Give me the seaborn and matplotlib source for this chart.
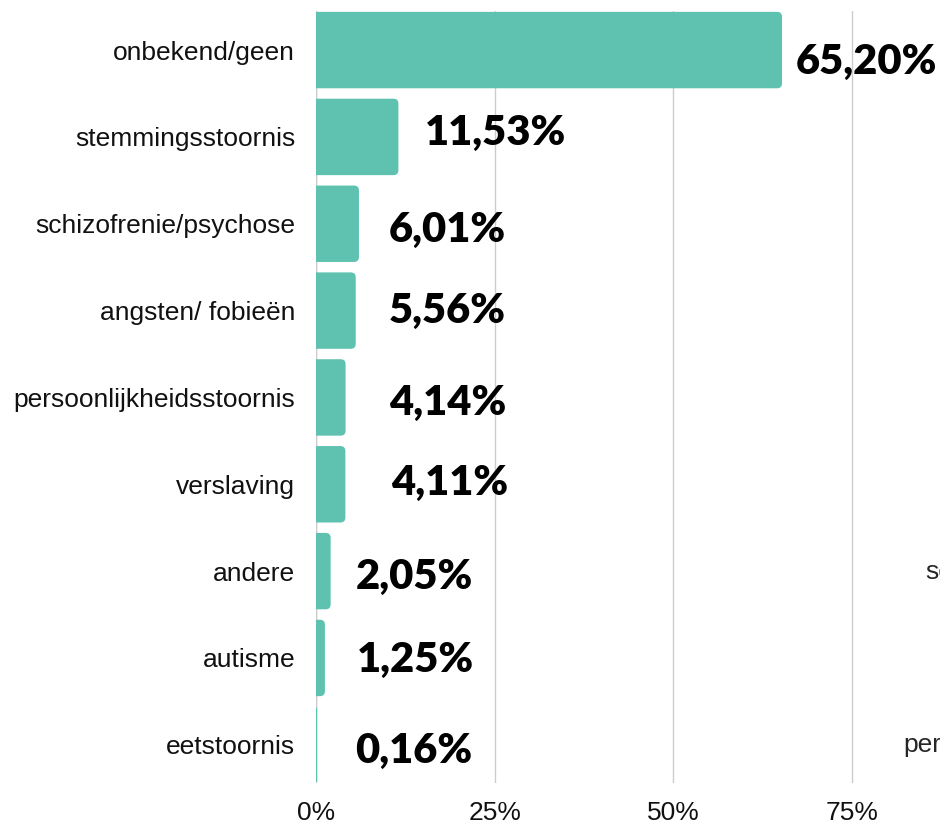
import seaborn as sns
import matplotlib.pyplot as plt
import pandas as pd
from matplotlib.patches import FancyBboxPatch

# data
categories = ["onbekend/geen", "stemmingsstoornis", "schizofrenie/psychose",
              "angsten/ fobieën", "persoonlijkheidsstoornis", "verslaving",
              "andere", "autisme", "eetstoornis"]
values = [65.20, 11.53, 6.01, 5.56, 4.14, 4.11, 2.05, 1.25, 0.16]
xticks = [0, 25, 50, 75]

# label offsets in pixels (dx from bar end, dy from bar centre)
label_dx = [14, 26, 30, 33, 43, 46, 25, 32, 38]
label_dy = [-12, 4, -6, 0, -6, 1, -6, -2, -6]

bar_color = "#5fc1b0"

df = pd.DataFrame({"cat": categories, "val": values})

sns.set_style("white")
fig = plt.figure(figsize=(9.4, 8.25), dpi=100)
ax = fig.add_axes([316 / 940, 1 - 783 / 825, 1 - 316 / 940, 772 / 825])

sns.barplot(data=df, x="val", y="cat", color=bar_color, width=0.88,
            saturation=1, ax=ax, zorder=2)

# replace bars by ones with rounded right corners
xmax = 87.3
ax.set_xlim(0, xmax)
ax.set_ylim(8.44, -0.45)
px_x = xmax / (940 - 316)      # data units per pixel (x)
px_y = 8.89 / 772              # data units per pixel (y)
r = 5 * px_x
for p in list(ax.patches):
    x0, y0, w, h = p.get_x(), p.get_y(), p.get_width(), p.get_height()
    p.remove()
    rr = min(r, (w + r) / 2)
    box = FancyBboxPatch((-r, y0), w + r, h,
                         boxstyle=f"round,pad=0,rounding_size={rr}",
                         mutation_aspect=px_y / px_x,
                         fc=bar_color, ec="none", zorder=2)
    ax.add_patch(box)

for i, v in enumerate(values):
    ax.annotate(f"{v:.2f}%".replace(".", ","), xy=(v, i),
                xytext=(label_dx[i], label_dy[i]), textcoords="offset pixels",
                ha="left", va="center", fontsize=30, fontweight="heavy",
                family="Lato", color="black", zorder=3)

ax.set_xticks(xticks)
ax.set_xticklabels([f"{t}%" for t in xticks])
ax.grid(axis="x", color="#cccccc", linewidth=1, zorder=0)
ax.axvline(0, color="#cccccc", linewidth=1, zorder=0)
ax.set_xlabel("")
ax.set_ylabel("")
for s in ax.spines.values():
    s.set_visible(False)
ax.tick_params(axis="both", length=0, labelsize=19, colors="#111111")
ax.tick_params(axis="y", pad=15)
ax.tick_params(axis="x", pad=13)
for lab in ax.get_xticklabels() + ax.get_yticklabels():
    lab.set_family("Liberation Sans")

# start of the neighbouring chart, cut off by the figure edge
fig.text(925 / 940, 1 - 572 / 825, "schizofrenie/psychose", fontsize=19,
         family="Liberation Sans", va="center", ha="left")
fig.text(903 / 940, 1 - 745 / 825, "persoonlijkheidsstoornis", fontsize=19,
         family="Liberation Sans", va="center", ha="left")

fig.savefig("out.png", dpi=100)
